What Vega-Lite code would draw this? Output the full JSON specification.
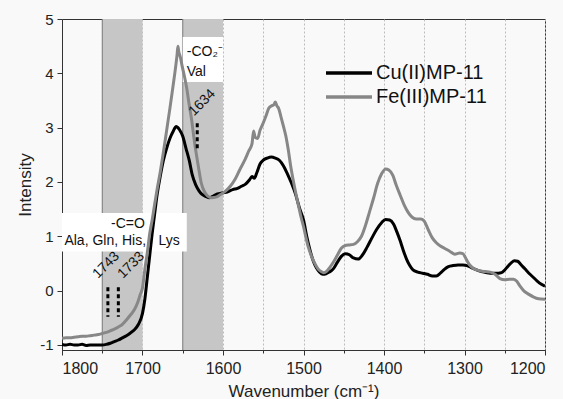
{
  "$schema": "https://vega.github.io/schema/vega-lite/v6.json",
  "width": 483,
  "height": 331,
  "autosize": {"type": "none"},
  "padding": {"left": 62, "top": 19, "right": 18, "bottom": 49},
  "background": "#f9f9f9",
  "config": {
    "view": {"fill": "#f9f9f9", "stroke": "#333333", "strokeWidth": 1},
    "font": "Liberation Sans",
    "axis": {"labelFont": "Liberation Sans", "titleFont": "Liberation Sans", "labelColor": "#222222", "titleColor": "#222222", "domainColor": "#333333", "tickColor": "#333333", "titleFontSize": 17, "titleFontWeight": "normal"}
  },
  "datasets": {
    "spectra": [
      {"series":"Cu(II)MP-11","wn":1800,"v":-0.99},{"series":"Cu(II)MP-11","wn":1795,"v":-1.0},{"series":"Cu(II)MP-11","wn":1790,"v":-0.99},{"series":"Cu(II)MP-11","wn":1785,"v":-1.0},{"series":"Cu(II)MP-11","wn":1780,"v":-1.0},{"series":"Cu(II)MP-11","wn":1775,"v":-0.99},{"series":"Cu(II)MP-11","wn":1770,"v":-1.01},{"series":"Cu(II)MP-11","wn":1765,"v":-1.0},{"series":"Cu(II)MP-11","wn":1760,"v":-1.0},{"series":"Cu(II)MP-11","wn":1755,"v":-1.0},{"series":"Cu(II)MP-11","wn":1750,"v":-1.0},{"series":"Cu(II)MP-11","wn":1745,"v":-0.99},{"series":"Cu(II)MP-11","wn":1740,"v":-0.97},{"series":"Cu(II)MP-11","wn":1735,"v":-0.94},{"series":"Cu(II)MP-11","wn":1730,"v":-0.91},{"series":"Cu(II)MP-11","wn":1725,"v":-0.87},{"series":"Cu(II)MP-11","wn":1720,"v":-0.83},{"series":"Cu(II)MP-11","wn":1715,"v":-0.78},{"series":"Cu(II)MP-11","wn":1710,"v":-0.72},{"series":"Cu(II)MP-11","wn":1705,"v":-0.62},{"series":"Cu(II)MP-11","wn":1700,"v":-0.42},{"series":"Cu(II)MP-11","wn":1697,"v":-0.15},{"series":"Cu(II)MP-11","wn":1694,"v":0.25},{"series":"Cu(II)MP-11","wn":1691,"v":0.65},{"series":"Cu(II)MP-11","wn":1688,"v":1.05},{"series":"Cu(II)MP-11","wn":1685,"v":1.4},{"series":"Cu(II)MP-11","wn":1682,"v":1.75},{"series":"Cu(II)MP-11","wn":1678,"v":2.1},{"series":"Cu(II)MP-11","wn":1674,"v":2.4},{"series":"Cu(II)MP-11","wn":1670,"v":2.62},{"series":"Cu(II)MP-11","wn":1666,"v":2.8},{"series":"Cu(II)MP-11","wn":1662,"v":2.93},{"series":"Cu(II)MP-11","wn":1658,"v":3.02},{"series":"Cu(II)MP-11","wn":1656,"v":3.0},{"series":"Cu(II)MP-11","wn":1654,"v":2.96},{"series":"Cu(II)MP-11","wn":1650,"v":2.84},{"series":"Cu(II)MP-11","wn":1646,"v":2.62},{"series":"Cu(II)MP-11","wn":1642,"v":2.4},{"series":"Cu(II)MP-11","wn":1638,"v":2.12},{"series":"Cu(II)MP-11","wn":1634,"v":1.95},{"series":"Cu(II)MP-11","wn":1630,"v":1.84},{"series":"Cu(II)MP-11","wn":1626,"v":1.77},{"series":"Cu(II)MP-11","wn":1621,"v":1.73},{"series":"Cu(II)MP-11","wn":1617,"v":1.71},{"series":"Cu(II)MP-11","wn":1612,"v":1.74},{"series":"Cu(II)MP-11","wn":1607,"v":1.78},{"series":"Cu(II)MP-11","wn":1600,"v":1.8},{"series":"Cu(II)MP-11","wn":1594,"v":1.82},{"series":"Cu(II)MP-11","wn":1588,"v":1.86},{"series":"Cu(II)MP-11","wn":1582,"v":1.88},{"series":"Cu(II)MP-11","wn":1577,"v":1.92},{"series":"Cu(II)MP-11","wn":1572,"v":1.96},{"series":"Cu(II)MP-11","wn":1567,"v":2.04},{"series":"Cu(II)MP-11","wn":1564,"v":2.1},{"series":"Cu(II)MP-11","wn":1561,"v":2.07},{"series":"Cu(II)MP-11","wn":1558,"v":2.17},{"series":"Cu(II)MP-11","wn":1554,"v":2.33},{"series":"Cu(II)MP-11","wn":1550,"v":2.4},{"series":"Cu(II)MP-11","wn":1545,"v":2.44},{"series":"Cu(II)MP-11","wn":1540,"v":2.46},{"series":"Cu(II)MP-11","wn":1535,"v":2.44},{"series":"Cu(II)MP-11","wn":1530,"v":2.4},{"series":"Cu(II)MP-11","wn":1525,"v":2.3},{"series":"Cu(II)MP-11","wn":1520,"v":2.15},{"series":"Cu(II)MP-11","wn":1515,"v":1.98},{"series":"Cu(II)MP-11","wn":1510,"v":1.78},{"series":"Cu(II)MP-11","wn":1505,"v":1.52},{"series":"Cu(II)MP-11","wn":1500,"v":1.3},{"series":"Cu(II)MP-11","wn":1496,"v":1.0},{"series":"Cu(II)MP-11","wn":1492,"v":0.75},{"series":"Cu(II)MP-11","wn":1488,"v":0.55},{"series":"Cu(II)MP-11","wn":1484,"v":0.42},{"series":"Cu(II)MP-11","wn":1480,"v":0.34},{"series":"Cu(II)MP-11","wn":1476,"v":0.3},{"series":"Cu(II)MP-11","wn":1472,"v":0.31},{"series":"Cu(II)MP-11","wn":1468,"v":0.34},{"series":"Cu(II)MP-11","wn":1463,"v":0.4},{"series":"Cu(II)MP-11","wn":1458,"v":0.52},{"series":"Cu(II)MP-11","wn":1453,"v":0.63},{"series":"Cu(II)MP-11","wn":1448,"v":0.68},{"series":"Cu(II)MP-11","wn":1443,"v":0.66},{"series":"Cu(II)MP-11","wn":1438,"v":0.6},{"series":"Cu(II)MP-11","wn":1432,"v":0.58},{"series":"Cu(II)MP-11","wn":1427,"v":0.65},{"series":"Cu(II)MP-11","wn":1421,"v":0.8},{"series":"Cu(II)MP-11","wn":1415,"v":0.97},{"series":"Cu(II)MP-11","wn":1409,"v":1.13},{"series":"Cu(II)MP-11","wn":1403,"v":1.25},{"series":"Cu(II)MP-11","wn":1398,"v":1.31},{"series":"Cu(II)MP-11","wn":1393,"v":1.3},{"series":"Cu(II)MP-11","wn":1388,"v":1.22},{"series":"Cu(II)MP-11","wn":1384,"v":1.08},{"series":"Cu(II)MP-11","wn":1380,"v":0.92},{"series":"Cu(II)MP-11","wn":1376,"v":0.74},{"series":"Cu(II)MP-11","wn":1372,"v":0.58},{"series":"Cu(II)MP-11","wn":1368,"v":0.46},{"series":"Cu(II)MP-11","wn":1364,"v":0.38},{"series":"Cu(II)MP-11","wn":1358,"v":0.34},{"series":"Cu(II)MP-11","wn":1352,"v":0.32},{"series":"Cu(II)MP-11","wn":1346,"v":0.3},{"series":"Cu(II)MP-11","wn":1340,"v":0.27},{"series":"Cu(II)MP-11","wn":1335,"v":0.27},{"series":"Cu(II)MP-11","wn":1330,"v":0.32},{"series":"Cu(II)MP-11","wn":1325,"v":0.39},{"series":"Cu(II)MP-11","wn":1320,"v":0.44},{"series":"Cu(II)MP-11","wn":1314,"v":0.46},{"series":"Cu(II)MP-11","wn":1308,"v":0.47},{"series":"Cu(II)MP-11","wn":1302,"v":0.47},{"series":"Cu(II)MP-11","wn":1297,"v":0.46},{"series":"Cu(II)MP-11","wn":1291,"v":0.42},{"series":"Cu(II)MP-11","wn":1285,"v":0.38},{"series":"Cu(II)MP-11","wn":1279,"v":0.35},{"series":"Cu(II)MP-11","wn":1272,"v":0.33},{"series":"Cu(II)MP-11","wn":1265,"v":0.32},{"series":"Cu(II)MP-11","wn":1258,"v":0.32},{"series":"Cu(II)MP-11","wn":1254,"v":0.33},{"series":"Cu(II)MP-11","wn":1250,"v":0.38},{"series":"Cu(II)MP-11","wn":1246,"v":0.45},{"series":"Cu(II)MP-11","wn":1242,"v":0.51},{"series":"Cu(II)MP-11","wn":1238,"v":0.55},{"series":"Cu(II)MP-11","wn":1234,"v":0.54},{"series":"Cu(II)MP-11","wn":1230,"v":0.48},{"series":"Cu(II)MP-11","wn":1225,"v":0.4},{"series":"Cu(II)MP-11","wn":1220,"v":0.32},{"series":"Cu(II)MP-11","wn":1215,"v":0.25},{"series":"Cu(II)MP-11","wn":1210,"v":0.18},{"series":"Cu(II)MP-11","wn":1205,"v":0.12},{"series":"Cu(II)MP-11","wn":1200,"v":0.08},
      {"series":"Fe(III)MP-11","wn":1800,"v":-0.88},{"series":"Fe(III)MP-11","wn":1795,"v":-0.87},{"series":"Fe(III)MP-11","wn":1790,"v":-0.87},{"series":"Fe(III)MP-11","wn":1785,"v":-0.86},{"series":"Fe(III)MP-11","wn":1780,"v":-0.85},{"series":"Fe(III)MP-11","wn":1775,"v":-0.84},{"series":"Fe(III)MP-11","wn":1770,"v":-0.84},{"series":"Fe(III)MP-11","wn":1765,"v":-0.83},{"series":"Fe(III)MP-11","wn":1760,"v":-0.82},{"series":"Fe(III)MP-11","wn":1755,"v":-0.81},{"series":"Fe(III)MP-11","wn":1750,"v":-0.79},{"series":"Fe(III)MP-11","wn":1745,"v":-0.77},{"series":"Fe(III)MP-11","wn":1740,"v":-0.74},{"series":"Fe(III)MP-11","wn":1735,"v":-0.71},{"series":"Fe(III)MP-11","wn":1730,"v":-0.67},{"series":"Fe(III)MP-11","wn":1725,"v":-0.62},{"series":"Fe(III)MP-11","wn":1720,"v":-0.54},{"series":"Fe(III)MP-11","wn":1715,"v":-0.45},{"series":"Fe(III)MP-11","wn":1710,"v":-0.35},{"series":"Fe(III)MP-11","wn":1706,"v":-0.22},{"series":"Fe(III)MP-11","wn":1703,"v":-0.08},{"series":"Fe(III)MP-11","wn":1700,"v":0.05},{"series":"Fe(III)MP-11","wn":1697,"v":0.4},{"series":"Fe(III)MP-11","wn":1694,"v":0.7},{"series":"Fe(III)MP-11","wn":1691,"v":1.05},{"series":"Fe(III)MP-11","wn":1688,"v":1.3},{"series":"Fe(III)MP-11","wn":1685,"v":1.58},{"series":"Fe(III)MP-11","wn":1682,"v":1.85},{"series":"Fe(III)MP-11","wn":1678,"v":2.18},{"series":"Fe(III)MP-11","wn":1674,"v":2.55},{"series":"Fe(III)MP-11","wn":1670,"v":2.95},{"series":"Fe(III)MP-11","wn":1666,"v":3.35},{"series":"Fe(III)MP-11","wn":1662,"v":3.77},{"series":"Fe(III)MP-11","wn":1659,"v":4.1},{"series":"Fe(III)MP-11","wn":1657,"v":4.35},{"series":"Fe(III)MP-11","wn":1656,"v":4.5},{"series":"Fe(III)MP-11","wn":1655,"v":4.4},{"series":"Fe(III)MP-11","wn":1653,"v":4.3},{"series":"Fe(III)MP-11","wn":1651,"v":4.15},{"series":"Fe(III)MP-11","wn":1648,"v":3.95},{"series":"Fe(III)MP-11","wn":1645,"v":3.72},{"series":"Fe(III)MP-11","wn":1642,"v":3.42},{"series":"Fe(III)MP-11","wn":1639,"v":3.15},{"series":"Fe(III)MP-11","wn":1636,"v":2.8},{"series":"Fe(III)MP-11","wn":1633,"v":2.5},{"series":"Fe(III)MP-11","wn":1630,"v":2.23},{"series":"Fe(III)MP-11","wn":1627,"v":1.98},{"series":"Fe(III)MP-11","wn":1623,"v":1.82},{"series":"Fe(III)MP-11","wn":1619,"v":1.74},{"series":"Fe(III)MP-11","wn":1614,"v":1.71},{"series":"Fe(III)MP-11","wn":1609,"v":1.72},{"series":"Fe(III)MP-11","wn":1603,"v":1.77},{"series":"Fe(III)MP-11","wn":1597,"v":1.83},{"series":"Fe(III)MP-11","wn":1591,"v":1.92},{"series":"Fe(III)MP-11","wn":1585,"v":2.05},{"series":"Fe(III)MP-11","wn":1579,"v":2.23},{"series":"Fe(III)MP-11","wn":1573,"v":2.4},{"series":"Fe(III)MP-11","wn":1568,"v":2.57},{"series":"Fe(III)MP-11","wn":1564,"v":2.7},{"series":"Fe(III)MP-11","wn":1562,"v":2.94},{"series":"Fe(III)MP-11","wn":1560,"v":2.82},{"series":"Fe(III)MP-11","wn":1557,"v":2.8},{"series":"Fe(III)MP-11","wn":1554,"v":2.95},{"series":"Fe(III)MP-11","wn":1551,"v":3.05},{"series":"Fe(III)MP-11","wn":1547,"v":3.2},{"series":"Fe(III)MP-11","wn":1543,"v":3.36},{"series":"Fe(III)MP-11","wn":1540,"v":3.4},{"series":"Fe(III)MP-11","wn":1537,"v":3.42},{"series":"Fe(III)MP-11","wn":1535,"v":3.47},{"series":"Fe(III)MP-11","wn":1533,"v":3.4},{"series":"Fe(III)MP-11","wn":1531,"v":3.36},{"series":"Fe(III)MP-11","wn":1528,"v":3.2},{"series":"Fe(III)MP-11","wn":1525,"v":3.03},{"series":"Fe(III)MP-11","wn":1522,"v":2.85},{"series":"Fe(III)MP-11","wn":1519,"v":2.6},{"series":"Fe(III)MP-11","wn":1516,"v":2.3},{"series":"Fe(III)MP-11","wn":1513,"v":2.05},{"series":"Fe(III)MP-11","wn":1509,"v":1.75},{"series":"Fe(III)MP-11","wn":1506,"v":1.55},{"series":"Fe(III)MP-11","wn":1503,"v":1.35},{"series":"Fe(III)MP-11","wn":1500,"v":1.18},{"series":"Fe(III)MP-11","wn":1497,"v":0.98},{"series":"Fe(III)MP-11","wn":1494,"v":0.8},{"series":"Fe(III)MP-11","wn":1490,"v":0.63},{"series":"Fe(III)MP-11","wn":1486,"v":0.5},{"series":"Fe(III)MP-11","wn":1482,"v":0.4},{"series":"Fe(III)MP-11","wn":1478,"v":0.35},{"series":"Fe(III)MP-11","wn":1475,"v":0.33},{"series":"Fe(III)MP-11","wn":1471,"v":0.36},{"series":"Fe(III)MP-11","wn":1467,"v":0.43},{"series":"Fe(III)MP-11","wn":1463,"v":0.52},{"series":"Fe(III)MP-11","wn":1458,"v":0.65},{"series":"Fe(III)MP-11","wn":1453,"v":0.78},{"series":"Fe(III)MP-11","wn":1448,"v":0.83},{"series":"Fe(III)MP-11","wn":1443,"v":0.84},{"series":"Fe(III)MP-11","wn":1438,"v":0.85},{"series":"Fe(III)MP-11","wn":1433,"v":0.9},{"series":"Fe(III)MP-11","wn":1428,"v":1.0},{"series":"Fe(III)MP-11","wn":1423,"v":1.2},{"series":"Fe(III)MP-11","wn":1418,"v":1.45},{"series":"Fe(III)MP-11","wn":1413,"v":1.7},{"series":"Fe(III)MP-11","wn":1408,"v":1.97},{"series":"Fe(III)MP-11","wn":1403,"v":2.15},{"series":"Fe(III)MP-11","wn":1398,"v":2.24},{"series":"Fe(III)MP-11","wn":1394,"v":2.22},{"series":"Fe(III)MP-11","wn":1389,"v":2.12},{"series":"Fe(III)MP-11","wn":1385,"v":1.95},{"series":"Fe(III)MP-11","wn":1380,"v":1.76},{"series":"Fe(III)MP-11","wn":1375,"v":1.58},{"series":"Fe(III)MP-11","wn":1370,"v":1.44},{"series":"Fe(III)MP-11","wn":1365,"v":1.35},{"series":"Fe(III)MP-11","wn":1360,"v":1.32},{"series":"Fe(III)MP-11","wn":1354,"v":1.32},{"series":"Fe(III)MP-11","wn":1350,"v":1.28},{"series":"Fe(III)MP-11","wn":1345,"v":1.12},{"series":"Fe(III)MP-11","wn":1340,"v":0.97},{"series":"Fe(III)MP-11","wn":1335,"v":0.88},{"series":"Fe(III)MP-11","wn":1330,"v":0.82},{"series":"Fe(III)MP-11","wn":1325,"v":0.78},{"series":"Fe(III)MP-11","wn":1318,"v":0.72},{"series":"Fe(III)MP-11","wn":1312,"v":0.67},{"series":"Fe(III)MP-11","wn":1306,"v":0.69},{"series":"Fe(III)MP-11","wn":1302,"v":0.68},{"series":"Fe(III)MP-11","wn":1298,"v":0.58},{"series":"Fe(III)MP-11","wn":1294,"v":0.48},{"series":"Fe(III)MP-11","wn":1290,"v":0.42},{"series":"Fe(III)MP-11","wn":1285,"v":0.38},{"series":"Fe(III)MP-11","wn":1280,"v":0.36},{"series":"Fe(III)MP-11","wn":1274,"v":0.35},{"series":"Fe(III)MP-11","wn":1268,"v":0.34},{"series":"Fe(III)MP-11","wn":1262,"v":0.3},{"series":"Fe(III)MP-11","wn":1256,"v":0.22},{"series":"Fe(III)MP-11","wn":1250,"v":0.2},{"series":"Fe(III)MP-11","wn":1244,"v":0.21},{"series":"Fe(III)MP-11","wn":1239,"v":0.21},{"series":"Fe(III)MP-11","wn":1235,"v":0.17},{"series":"Fe(III)MP-11","wn":1231,"v":0.08},{"series":"Fe(III)MP-11","wn":1226,"v":-0.01},{"series":"Fe(III)MP-11","wn":1220,"v":-0.07},{"series":"Fe(III)MP-11","wn":1214,"v":-0.12},{"series":"Fe(III)MP-11","wn":1208,"v":-0.15},{"series":"Fe(III)MP-11","wn":1200,"v":-0.16}
    ],
    "bands": [{"x1": 1750, "x2": 1700}, {"x1": 1650, "x2": 1600}],
    "boxes": [{"x1": 1650, "x2": 1600, "y1": 4.67, "y2": 3.84}, {"x1": 1800, "x2": 1645, "y1": 1.43, "y2": 0.72}],
    "dashes": [{"wn": 1743, "y1": 0.06, "y2": -0.48}, {"wn": 1730, "y1": 0.06, "y2": -0.48}, {"wn": 1632, "y1": 3.08, "y2": 2.6}],
    "notesLeft": [{"wn": 1645, "v": 4.4, "t": "-CO₂⁻"}, {"wn": 1645, "v": 4.03, "t": "Val"}, {"wn": 1797, "v": 0.91, "t": "Ala, Gln, His,"}, {"wn": 1680, "v": 0.91, "t": "Lys"}],
    "notesCenter": [{"wn": 1718, "v": 1.22, "t": "-C=O"}],
    "notesRot": [{"wn": 1745, "v": 0.47, "t": "1743"}, {"wn": 1714, "v": 0.47, "t": "1733"}, {"wn": 1626, "v": 3.46, "t": "1634"}]
  },
  "layer": [
    {
      "data": {"name": "bands"},
      "mark": {"type": "rect", "color": "#c6c6c6"},
      "encoding": {
        "x": {"field": "x1", "type": "quantitative", "scale": {"domain": [1800, 1200], "nice": false, "zero": false},
          "axis": {"values": [1800,1750,1700,1650,1600,1550,1500,1450,1400,1350,1300,1250,1200], "labelExpr": "datum.value % 100 === 0 ? datum.label : ''", "format": "d", "labelFontSize": 16, "grid": true, "gridDash": [2,2], "gridColor": "#bdbdbd", "tickSize": {"condition": {"test": "datum.value % 100 !== 0", "value": 3}, "value": 5}, "labelPadding": 5, "title": "Wavenumber (cm⁻¹)", "titlePadding": 7}},
        "x2": {"field": "x2"},
        "y": {"datum": 5, "type": "quantitative", "scale": {"domain": [-1.094, 5], "nice": false, "zero": false},
          "axis": {"values": [-1,-0.5,0,0.5,1,1.5,2,2.5,3,3.5,4,4.5,5], "format": "d", "labelExpr": "datum.value % 1 === 0 ? replace(datum.label, '\u2212', '-') : ''", "labelFontSize": 15, "grid": false, "tickSize": {"condition": {"test": "datum.value % 1 !== 0", "value": 3}, "value": 5}, "labelPadding": 4, "title": "Intensity", "titlePadding": 5}},
        "y2": {"datum": -1.094}
      }
    },
    {
      "data": {"name": "bands"},
      "mark": {"type": "rule", "color": "#7a7a7a", "strokeWidth": 1},
      "encoding": {"x": {"field": "x1", "type": "quantitative"}, "y": {"datum": 5}, "y2": {"datum": -1.094}}
    },
    {
      "data": {"name": "boxes"},
      "mark": {"type": "rect", "color": "#ffffff"},
      "encoding": {"x": {"field": "x1", "type": "quantitative"}, "x2": {"field": "x2"}, "y": {"field": "y1", "type": "quantitative"}, "y2": {"field": "y2"}}
    },
    {
      "data": {"name": "spectra"},
      "mark": {"type": "line", "strokeWidth": 3, "clip": true, "interpolate": "monotone"},
      "encoding": {
        "x": {"field": "wn", "type": "quantitative"},
        "y": {"field": "v", "type": "quantitative"},
        "order": {"field": "wn", "sort": "descending"},
        "color": {"field": "series", "type": "nominal",
          "scale": {"domain": ["Cu(II)MP-11", "Fe(III)MP-11"], "range": ["#000000", "#878787"]},
          "legend": {"title": null, "orient": "none", "legendX": 277, "legendY": 44, "symbolType": "M-3,0H3", "symbolSize": 235, "symbolStrokeWidth": 3.5, "labelFontSize": 20, "labelFont": "Liberation Sans", "labelColor": "#111111", "labelOffset": 17, "rowPadding": 4, "padding": 0}}
      }
    },
    {
      "data": {"name": "dashes"},
      "mark": {"type": "rule", "color": "#000000", "strokeWidth": 3, "strokeDash": [4, 3]},
      "encoding": {"x": {"field": "wn", "type": "quantitative"}, "y": {"field": "y1", "type": "quantitative"}, "y2": {"field": "y2"}}
    },
    {
      "data": {"name": "notesLeft"},
      "mark": {"type": "text", "align": "left", "baseline": "middle", "fontSize": 14, "font": "Liberation Sans", "color": "#111111"},
      "encoding": {"x": {"field": "wn", "type": "quantitative"}, "y": {"field": "v", "type": "quantitative"}, "text": {"field": "t"}}
    },
    {
      "data": {"name": "notesCenter"},
      "mark": {"type": "text", "align": "center", "baseline": "middle", "fontSize": 14, "font": "Liberation Sans", "color": "#111111"},
      "encoding": {"x": {"field": "wn", "type": "quantitative"}, "y": {"field": "v", "type": "quantitative"}, "text": {"field": "t"}}
    },
    {
      "data": {"name": "notesRot"},
      "mark": {"type": "text", "align": "center", "baseline": "middle", "fontSize": 14, "angle": 315, "font": "Liberation Sans", "color": "#111111"},
      "encoding": {"x": {"field": "wn", "type": "quantitative"}, "y": {"field": "v", "type": "quantitative"}, "text": {"field": "t"}}
    }
  ]
}
